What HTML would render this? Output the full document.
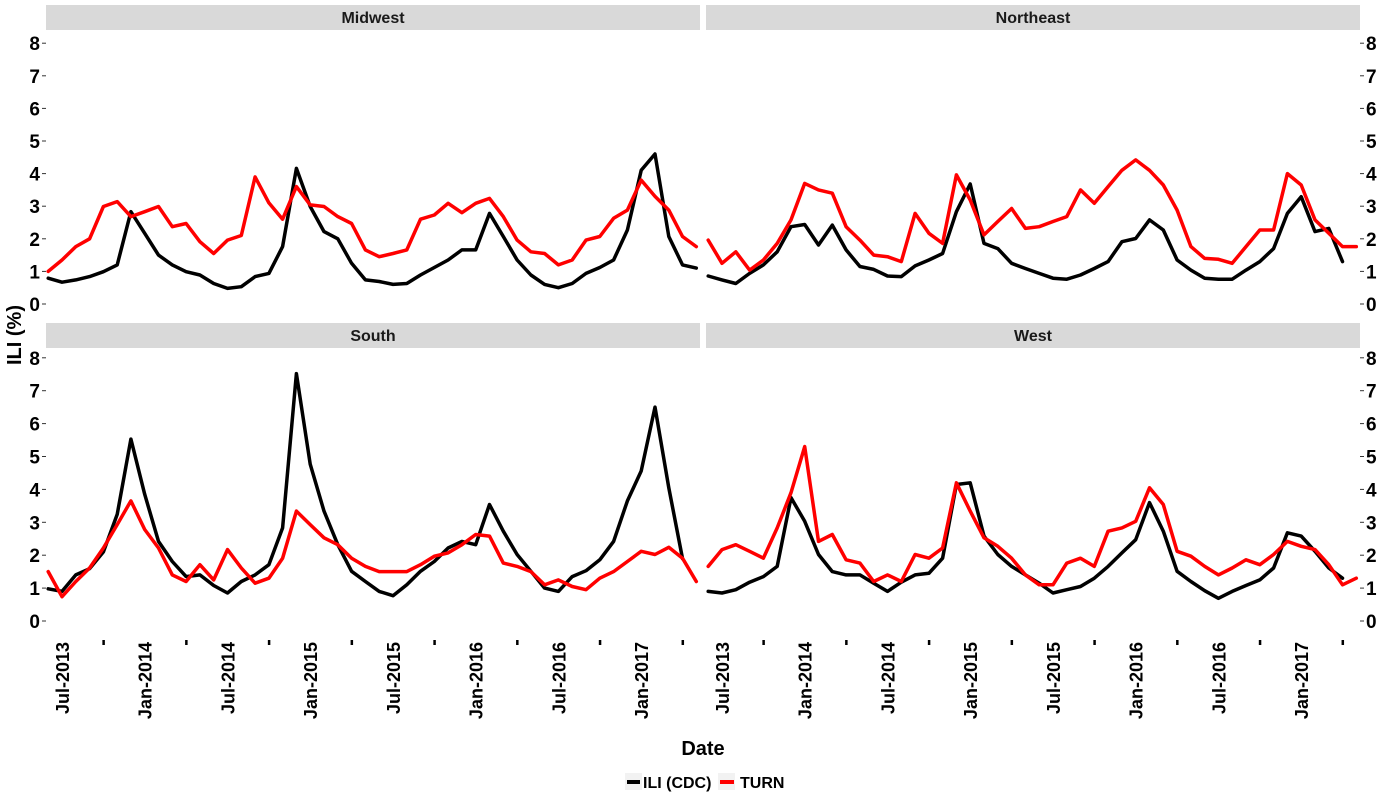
<!DOCTYPE html>
<html><head><meta charset="utf-8"><style>
body{margin:0;background:#fff;}
svg text{font-family:"Liberation Sans",Arial,sans-serif;font-weight:bold;}
</style></head><body>
<svg id="chart" width="1400" height="800" xmlns="http://www.w3.org/2000/svg"></svg>
<script>
const regions = ["Midwest","Northeast","South","West"];
const xTickLabels = ["Jul-2013","Jan-2014","Jul-2014","Jan-2015","Jul-2015","Jan-2016","Jul-2016","Jan-2017"];
const xTickMonths = [1,7,13,19,25,31,37,43];
const xMinorMonths = [4,10,16,22,28,34,40,46];
const yTicks = [0,1,2,3,4,5,6,7,8];
// monthly values starting Jun-2013 (month index 0)
const midwestIli = [0.79,0.67,0.74,0.84,0.99,1.2,2.83,2.17,1.5,1.2,0.99,0.89,0.63,0.48,0.53,0.84,0.94,1.76,4.16,2.99,2.22,2.0,1.25,0.74,0.69,0.6,0.63,0.89,1.12,1.35,1.66,1.66,2.78,2.07,1.35,0.89,0.6,0.5,0.63,0.94,1.12,1.35,2.27,4.1,4.6,2.07,1.2,1.1];
const midwestTurn = [1.0,1.35,1.76,2.0,2.99,3.14,2.68,2.83,2.99,2.37,2.47,1.91,1.55,1.96,2.1,3.9,3.1,2.6,3.6,3.04,2.99,2.68,2.47,1.66,1.45,1.55,1.66,2.6,2.73,3.09,2.8,3.09,3.24,2.68,1.96,1.6,1.55,1.2,1.35,1.96,2.07,2.63,2.88,3.8,3.3,2.88,2.07,1.76];
const northeastIli = [0.86,0.74,0.63,0.94,1.2,1.6,2.37,2.44,1.81,2.42,1.66,1.15,1.06,0.86,0.84,1.17,1.35,1.55,2.83,3.68,1.86,1.7,1.25,1.09,0.94,0.79,0.76,0.89,1.09,1.3,1.91,2.01,2.58,2.27,1.35,1.04,0.79,0.76,0.76,1.04,1.3,1.7,2.78,3.29,2.22,2.32,1.3];
const northeastTurn = [1.96,1.25,1.6,1.04,1.35,1.86,2.58,3.7,3.5,3.4,2.37,1.96,1.5,1.45,1.3,2.78,2.17,1.86,3.96,3.19,2.12,2.53,2.93,2.32,2.37,2.53,2.68,3.5,3.09,3.6,4.1,4.42,4.1,3.65,2.88,1.76,1.4,1.37,1.25,1.76,2.27,2.27,4.0,3.65,2.58,2.17,1.76,1.76];
const southIli = [0.98,0.9,1.4,1.59,2.1,3.24,5.53,3.85,2.42,1.81,1.35,1.4,1.08,0.85,1.2,1.4,1.71,2.83,7.52,4.77,3.34,2.32,1.51,1.2,0.9,0.77,1.1,1.51,1.81,2.22,2.42,2.32,3.54,2.73,2.02,1.51,1.0,0.9,1.35,1.53,1.86,2.42,3.65,4.56,6.5,4.05,1.9];
const southTurn = [1.5,0.74,1.2,1.61,2.22,2.93,3.65,2.78,2.22,1.4,1.2,1.71,1.25,2.17,1.61,1.15,1.3,1.91,3.34,2.93,2.53,2.32,1.91,1.66,1.5,1.5,1.5,1.71,1.97,2.07,2.32,2.63,2.58,1.76,1.66,1.5,1.1,1.25,1.05,0.95,1.3,1.5,1.81,2.12,2.02,2.24,1.91,1.2];
const westIli = [0.9,0.85,0.95,1.18,1.35,1.66,3.75,3.03,2.02,1.5,1.4,1.4,1.15,0.9,1.18,1.4,1.45,1.91,4.15,4.2,2.58,2.02,1.66,1.4,1.15,0.85,0.95,1.05,1.3,1.66,2.07,2.47,3.6,2.73,1.51,1.2,0.92,0.69,0.9,1.08,1.25,1.61,2.68,2.58,2.12,1.61,1.3];
const westTurn = [1.66,2.17,2.32,2.12,1.91,2.83,3.9,5.3,2.42,2.63,1.86,1.76,1.2,1.4,1.2,2.02,1.91,2.22,4.2,3.34,2.53,2.27,1.91,1.4,1.1,1.1,1.76,1.91,1.66,2.73,2.83,3.03,4.05,3.54,2.12,1.97,1.66,1.4,1.61,1.86,1.71,2.02,2.42,2.27,2.17,1.71,1.1,1.3];

const seriesIli = [midwestIli,northeastIli,southIli,westIli];
const seriesTurn = [midwestTurn,northeastTurn,southTurn,westTurn];

const NS="http://www.w3.org/2000/svg";
const svg=document.getElementById('chart');
function mk(tag,attrs,parent){const e=document.createElementNS(NS,tag);for(const k in attrs)e.setAttribute(k,attrs[k]);(parent||svg).appendChild(e);return e;}

const panels=[
 {x0:46,x1:700,top:30,strip:5,y0:304,unit:32.6,left:true,bottom:false},
 {x0:706,x1:1360,top:30,strip:5,y0:304,unit:32.6,left:false,bottom:false},
 {x0:46,x1:700,top:347,strip:323,y0:621,unit:32.9,left:true,bottom:true},
 {x0:706,x1:1360,top:347,strip:323,y0:621,unit:32.9,left:false,bottom:true}
];
function xScale(p,m){return p.x0+16+(m-1)*13.79;}
function yScale(p,v){return p.y0-v*p.unit;}

panels.forEach((p,pi)=>{
  const g=mk('g',{});
  
  
  const st=mk('rect',{x:p.x0,y:p.strip,width:p.x1-p.x0,height:25,fill:'#d9d9d9'},g);
  
  
  const tt=mk('text',{x:(p.x0+p.x1)/2,y:p.strip+18,'text-anchor':'middle','font-size':16,fill:'#1a1a1a'},g);
  tt.textContent=regions[pi];
  
  
  yTicks.forEach(v=>{
    const y=yScale(p,v);
    if(p.left){
      mk('line',{x1:p.x0-4,x2:p.x0,y1:y,y2:y,stroke:'#333','stroke-width':1},g);
      const t=mk('text',{x:p.x0-6,y:y+7,'text-anchor':'end','font-size':19,fill:'#000'},g);
      t.textContent=v;
      
      
    } else {
      mk('line',{x1:p.x1,x2:p.x1+4,y1:y,y2:y,stroke:'#333','stroke-width':1},g);
      const t=mk('text',{x:p.x1+6,y:y+7,'text-anchor':'start','font-size':19,fill:'#000'},g);
      t.textContent=v;
      
      
    }
  });
  if(p.bottom){
    xTickMonths.forEach((m,i)=>{
      const x=xScale(p,m);
      const t=mk('text',{x:0,y:0,'text-anchor':'end','font-size':18,fill:'#000',transform:`translate(${x+7},${p.y0+21}) rotate(-90)`},g);
      t.textContent=xTickLabels[i];
      
      
    });
    xMinorMonths.forEach(m=>{
      const x=xScale(p,m);
      const r=mk('rect',{x:x-1,y:p.y0+19,width:2.5,height:5,fill:'#000'},g);
      
      
    });
  }
  [[seriesIli[pi],'#000','ili'],[seriesTurn[pi],'#ff0000','turn']].forEach(([vals,col,nm])=>{
    const d=vals.map((v,i)=>(i?'L':'M')+xScale(p,i).toFixed(1)+','+yScale(p,v).toFixed(1)).join('');
    const path=mk('path',{d:d,fill:'none',stroke:col,'stroke-width':3.5,'stroke-linejoin':'round','stroke-linecap':'round'},g);
    
    
  });
});
</script>
<svg style="position:absolute;left:0;top:0" width="1400" height="800" xmlns="http://www.w3.org/2000/svg">
  <text x="0" y="0" transform="translate(21,335) rotate(-90)" text-anchor="middle" font-size="20" font-family="Liberation Sans, sans-serif" font-weight="bold">ILI (%)</text>
  <text x="703" y="755" text-anchor="middle" font-size="20" font-family="Liberation Sans, sans-serif" font-weight="bold">Date</text>
  <g>
    <rect x="625" y="773" width="17" height="17" fill="#f2f2f2"/>
    <line x1="627" x2="640" y1="782" y2="782" stroke="#000" stroke-width="4"/>
    <text x="643" y="788" font-size="16" font-family="Liberation Sans, sans-serif" font-weight="bold">ILI (CDC)</text>
    <rect x="718" y="773" width="17" height="17" fill="#f2f2f2"/>
    <line x1="720" x2="734" y1="782" y2="782" stroke="#f00" stroke-width="4"/>
    <text x="740" y="788" font-size="16" font-family="Liberation Sans, sans-serif" font-weight="bold">TURN</text>
  </g>
</svg>
</body></html>
